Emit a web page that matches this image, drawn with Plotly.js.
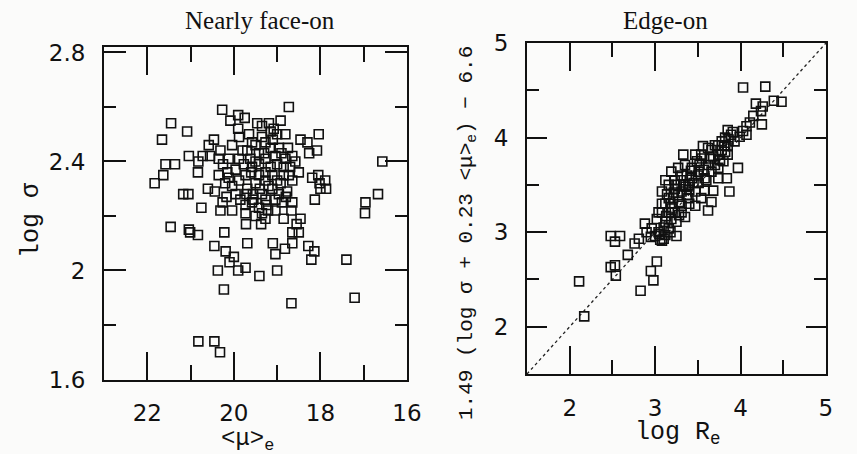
<!DOCTYPE html>
<html>
<head>
<meta charset="utf-8">
<script src="https://cdn.plot.ly/plotly-3.0.1.min.js"></script>
<style>html,body{margin:0;padding:0;background:#fbfbfa;}#plot{width:857px;height:454px;}</style>
</head>
<body>
<div id="plot"></div>
<script>
// Nearly face-on: <mu>_e vs log sigma
const faceMu = [20.27,18.73,21.45,21.08,21.66,18.04,21.04,21.58,21.36,20.83,21.63,21.83,16.57,16.67,16.96,16.97,18.13,21.17,21.05,20.75,21.46,21.04,21.01,20.83,20.45,20.22,20.19,20.00,20.10,20.37,20.23,19.90,19.73,19.41,19.00,19.04,19.69,19.10,18.82,18.67,18.21,18.28,18.14,17.40,17.21,20.82,20.45,20.32,18.65,18.65,18.50,18.55,18.46,18.19,18.05,18.02,17.89,17.87,18.00,18.46,18.30,18.08,18.26,18.81,18.92,19.75,19.90,20.08,19.90,20.46,20.58,20.72,20.55,20.31,20.82,20.35,20.15,20.60,20.44,20.31,20.26,20.04,20.17,20.04,19.72,19.37,19.50,19.35,19.21,18.85,18.67,18.89,19.73,19.71,19.56,19.27,19.11,18.96,18.77,18.65,18.85,18.50,18.58,18.65,18.81,19.04,19.27,19.42,19.27,19.42,19.58,19.73,19.88,19.69,19.50,19.27,19.88,19.69,19.50,19.35,19.15,19.08,19.27,19.15,19.46,19.19,19.88,20.04,20.12,19.77,19.62,19.15,19.00,18.96,19.42,19.58,20.12,19.96,19.58,19.42,19.04,18.92,18.85,18.73,19.11,19.96,19.73,19.27,19.04,20.35,19.35,18.65,19.50,19.30,19.60,19.20,19.40,19.80,19.10,18.90,19.65,19.35,19.00,19.55,19.25,18.80,19.85,20.20,20.25,19.00,18.75,18.70];
const faceLogSigma = [2.59,2.60,2.54,2.51,2.48,2.50,2.42,2.39,2.39,2.36,2.35,2.32,2.40,2.28,2.25,2.21,2.26,2.28,2.28,2.23,2.16,2.15,2.14,2.13,2.09,2.14,2.07,2.05,2.03,2.00,1.93,2.00,2.01,1.98,2.00,2.06,2.10,2.10,2.08,1.88,2.04,2.09,2.07,2.04,1.90,1.74,1.74,1.70,2.10,2.14,2.14,2.17,2.19,2.34,2.35,2.32,2.33,2.30,2.30,2.48,2.47,2.44,2.43,2.50,2.55,2.56,2.57,2.55,2.52,2.48,2.46,2.42,2.42,2.44,2.40,2.35,2.36,2.30,2.29,2.22,2.25,2.22,2.27,2.31,2.17,2.17,2.20,2.21,2.22,2.19,2.22,2.25,2.24,2.28,2.28,2.26,2.30,2.28,2.29,2.33,2.35,2.36,2.40,2.42,2.41,2.42,2.41,2.39,2.36,2.35,2.38,2.35,2.33,2.30,2.32,2.33,2.41,2.44,2.46,2.49,2.51,2.52,2.47,2.45,2.54,2.54,2.49,2.46,2.41,2.39,2.41,2.38,2.39,2.45,2.43,2.47,2.34,2.28,2.25,2.23,2.26,2.32,2.38,2.35,2.35,2.37,2.21,2.19,2.22,2.41,2.28,2.25,2.40,2.43,2.36,2.31,2.30,2.44,2.48,2.43,2.50,2.53,2.33,2.26,2.24,2.27,2.26,2.32,2.39,2.50,2.45,2.38];

// Edge-on: log R_e vs 1.49(log sigma + 0.23 <mu>_e) - 6.6
const edgeLogRe = [2.11,2.17,2.48,2.59,2.53,2.48,2.53,2.54,2.68,2.76,2.81,2.88,2.90,2.83,2.95,2.98,3.02,2.95,3.00,3.08,2.96,3.02,3.12,3.18,3.25,3.25,3.08,3.04,3.08,3.12,3.23,3.16,3.23,3.31,3.35,3.33,3.47,3.43,3.31,3.39,3.47,3.54,3.62,3.68,3.58,3.51,3.62,3.54,3.66,3.74,3.82,3.85,3.89,3.85,3.93,3.97,3.87,3.84,3.80,3.74,3.70,4.03,4.29,4.39,4.48,4.18,4.26,4.24,4.15,4.11,4.25,4.07,3.99,4.07,4.03,3.78,3.70,3.62,3.56,3.35,3.27,3.19,3.23,3.31,3.39,3.47,3.31,3.16,3.12,3.43,3.51,3.58,3.66,3.74,3.78,3.82,3.37,3.21,3.10,3.04,3.16,3.19,3.18,3.27,3.33,3.52,3.64,3.85,3.74,3.66,3.37,3.49,3.25,3.16,3.08,3.05,3.10,3.20,3.28,3.40,3.45,3.50,3.57,3.60,3.42,3.30,3.14,3.22,3.36,3.55,3.68,3.76,3.81,3.86,3.91,3.40,3.28,3.13,3.06,3.12];
const edgeCombo = [2.48,2.11,2.96,2.96,2.90,2.63,2.65,2.54,2.76,2.88,2.93,3.09,3.00,2.38,2.59,2.49,2.69,2.95,2.96,2.91,3.04,3.14,3.11,3.00,2.96,3.11,3.30,3.21,3.43,3.55,3.55,3.36,3.21,3.28,3.16,3.82,3.82,3.68,3.60,3.50,3.43,3.36,3.23,3.44,3.57,3.64,3.71,3.82,3.87,3.92,4.00,4.08,4.03,3.91,3.96,3.68,3.43,3.57,3.75,3.82,3.71,4.53,4.54,4.39,4.38,4.36,4.33,4.28,4.23,4.16,4.14,4.12,4.01,4.03,4.07,3.96,3.92,3.89,3.91,3.71,3.68,3.64,3.46,3.43,3.36,3.28,3.21,3.21,3.30,3.57,3.52,3.44,3.64,3.68,3.87,3.85,3.39,3.36,2.93,3.00,3.04,3.14,3.30,3.39,3.50,3.71,3.78,3.82,3.57,3.32,3.60,3.75,3.50,3.50,3.21,2.98,3.05,3.25,3.32,3.45,3.52,3.60,3.66,3.55,3.65,3.55,3.40,3.42,3.48,3.78,3.80,3.76,3.92,3.98,4.06,3.30,3.18,3.17,2.92,2.97];

const diagonal = [1.5, 5];

const marker = {symbol:'square-open', size:9, color:'#111', line:{width:1.6, color:'#111'}};

const traces = [
  {type:'scatter', mode:'markers', x:faceMu, y:faceLogSigma, xaxis:'x', yaxis:'y', marker:marker, hoverinfo:'skip'},
  {type:'scatter', mode:'lines', x:diagonal, y:diagonal, xaxis:'x2', yaxis:'y2', line:{color:'#222', width:1.3, dash:'dot'}, hoverinfo:'skip'},
  {type:'scatter', mode:'markers', x:edgeLogRe, y:edgeCombo, xaxis:'x2', yaxis:'y2', marker:marker, hoverinfo:'skip'}
];

const tickFont = {family:'DejaVu Sans', size:23, color:'#111'};
function ax(extra){
  return Object.assign({
    showline:true, mirror:'ticks', linecolor:'#111', linewidth:2,
    ticks:'inside', tickcolor:'#111', tickwidth:2,
    showgrid:false, zeroline:false, tickfont:tickFont, ticklabelstandoff:12, fixedrange:true
  }, extra);
}

const layout = {
  width:857, height:454,
  margin:{l:0,r:0,t:0,b:0},
  paper_bgcolor:'#fbfbfa', plot_bgcolor:'#fbfbfa',
  showlegend:false,
  xaxis: ax({domain:[104/857, 407/857], range:[23,16], tick0:16, dtick:2, ticklen:28,
             minor:{dtick:1, tick0:16, ticks:'inside', ticklen:15, tickwidth:2, tickcolor:'#111'}, anchor:'y'}),
  yaxis: ax({domain:[1-379.5/454, 1-47/454], range:[1.6,2.82], tick0:1.6, dtick:0.4, ticklen:22,
             minor:{dtick:0.2, tick0:1.6, ticks:'inside', ticklen:12, tickwidth:2, tickcolor:'#111'}, anchor:'x'}),
  xaxis2: ax({domain:[527/857, 826/857], range:[1.5,5.001], tick0:2, dtick:1, ticklen:28,
             minor:{dtick:0.5, tick0:2, ticks:'inside', ticklen:14, tickwidth:2, tickcolor:'#111'}, anchor:'y2'}),
  yaxis2: ax({domain:[1-374/454, 1-43/454], range:[1.5,5.001], tick0:2, dtick:1, ticklen:20,
             minor:{dtick:0.5, tick0:2, ticks:'inside', ticklen:12, tickwidth:2, tickcolor:'#111'}, anchor:'x2'}),
  annotations:[
    {text:'Nearly face-on', xref:'paper', yref:'paper', x:260/857, y:1-20/454, showarrow:false, xanchor:'center', yanchor:'middle', font:{family:'Liberation Serif', size:25, color:'#111'}},
    {text:'Edge-on', xref:'paper', yref:'paper', x:665/857, y:1-20/454, showarrow:false, xanchor:'center', yanchor:'middle', font:{family:'Liberation Serif', size:25, color:'#111'}},
    {text:'log σ', xref:'paper', yref:'paper', x:31/857, y:1-220/454, textangle:-90, showarrow:false, xanchor:'center', yanchor:'middle', font:{family:'Liberation Mono', size:25, color:'#111'}},
    {text:'&lt;μ&gt;<sub>e</sub>', xref:'paper', yref:'paper', x:247/857, y:1-440/454, showarrow:false, xanchor:'center', yanchor:'middle', font:{family:'Liberation Mono', size:24, color:'#111'}},
    {text:'log R<sub>e</sub>', xref:'paper', yref:'paper', x:678/857, y:1-433/454, showarrow:false, xanchor:'center', yanchor:'middle', font:{family:'Liberation Mono', size:25, color:'#111'}},
    {text:'1.49 (log σ + 0.23 &lt;μ&gt;<sub>e</sub>) − 6.6', xref:'paper', yref:'paper', x:467/857, y:1-233/454, textangle:-90, showarrow:false, xanchor:'center', yanchor:'middle', font:{family:'Liberation Mono', size:21, color:'#111'}}
  ]
};

Plotly.newPlot('plot', traces, layout, {staticPlot:true, displayModeBar:false});
</script>
</body>
</html>
